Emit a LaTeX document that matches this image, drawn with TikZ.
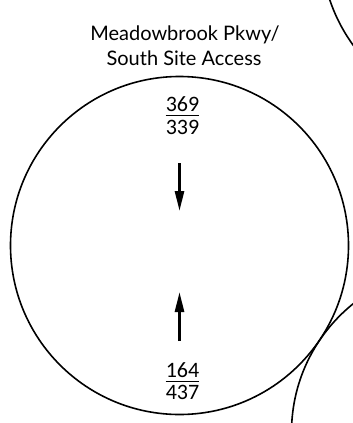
\documentclass[tikz,border=0pt]{standalone}
\usepackage{fontspec}
\setmainfont{Lato}
\newfontfamily\numfont{Carlito}
\usetikzlibrary{arrows.meta}
\tikzset{
  ring/.style={draw=black, line width=1.6pt},
  flow/.style={line width=2.6pt, -{Triangle[length=20pt,width=9pt]}},
  title/.style={font=\fontsize{20}{25}\selectfont, align=center, inner sep=0pt},
  num/.style={font=\numfont\fontsize{22}{22}\selectfont, inner sep=0pt},
  bar/.style={line width=1.8pt}
}
\begin{document}
\begin{tikzpicture}[x=1pt,y=-1pt]
\useasboundingbox (0,0) rectangle (353,423);
\clip (0,0) rectangle (353,423);
\draw[ring] (179.5,245.5) circle[radius=169];
\draw[ring] (490,-54) circle[radius=169];
\draw[ring] (456.5,432.4) circle[radius=165];
\node[title, anchor=base] (t1) at (185,40) {Meadowbrook Pkwy/};
\node[title, anchor=base] (t2) at (184,65) {South Site Access};
\node[num, anchor=base] (n1) at (182.5,111.5) {369};
\node[num, anchor=base] (d1) at (182.5,134) {339};
\draw[bar] ([yshift=-4pt]n1.base west) -- ([yshift=-4pt]n1.base east);
\node[num, anchor=base] (n2) at (182.5,377) {164};
\node[num, anchor=base] (d2) at (182.5,399.5) {437};
\draw[bar] ([yshift=-4.5pt]n2.base west) -- ([yshift=-4.5pt]n2.base east);
\coordinate (a1s) at (179.5,163);
\coordinate (a1e) at (179.5,211);
\coordinate (a2s) at (179.5,341);
\coordinate (a2e) at (179.5,292);
\draw[flow] (a1s) -- (a1e);
\draw[flow] (a2s) -- (a2e);
\end{tikzpicture}
\end{document}
